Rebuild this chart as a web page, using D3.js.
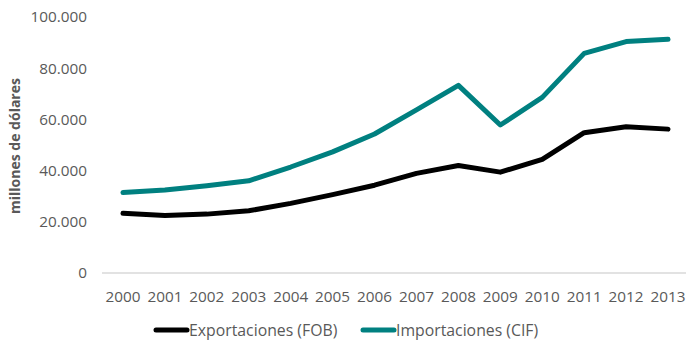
<!DOCTYPE html>
<html>
<head>
<meta charset="utf-8">
<script src="https://cdn.jsdelivr.net/npm/d3@7"></script>
<style>
  html, body { margin: 0; padding: 0; background: #fff; }
  svg { display: block; font-family: "Open Sans", "Noto Sans", sans-serif; }
</style>
</head>
<body>
<svg id="chart" width="686" height="343"></svg>
<script>
// Balanza comercial: exportaciones e importaciones, millones de dólares
const years = ["2000","2001","2002","2003","2004","2005","2006","2007","2008","2009","2010","2011","2012","2013"];
const exportaciones = [23300, 22500, 23000, 24300, 27200, 30600, 34300, 38900, 42000, 39400, 44400, 54800, 57100, 56200];
const importaciones = [31400, 32400, 34100, 36000, 41400, 47300, 54300, 63700, 73300, 57800, 68600, 85800, 90400, 91300];
const yTicks = [0, 20000, 40000, 60000, 80000, 100000];
const seriesNames = ["Exportaciones (FOB)", "Importaciones (CIF)"];
const seriesColors = ["#000000", "#008080"];
const yTitle = "millones de dólares";

const svg = d3.select("#chart");
const margin = { left: 102, top: 17 };

const x = d3.scaleBand().domain(years).range([margin.left, 689]).paddingInner(0).paddingOuter(0);
const y = d3.scaleLinear().domain([0, 100000]).range([273, margin.top]);

const fmt = v => v === 0 ? "0" : d3.format(",.0f")(v).replace(/,/g, ".");
const tickFont = "15.3px";

// y-axis labels (no line, no ticks)
const yAxis = d3.axisLeft(y).tickValues(yTicks).tickFormat(fmt).tickSize(0).tickPadding(0);
const gy = svg.append("g").attr("transform", `translate(87,0)`).call(yAxis);
gy.select(".domain").remove();
gy.selectAll("text").attr("fill", "#595959").style("font-size", tickFont).style("font-family", "'Open Sans', sans-serif");

// x-axis baseline and labels
const xAxis = d3.axisBottom(x).tickSize(0).tickPadding(17);
const gx = svg.append("g").attr("transform", `translate(0,${y(0)})`).call(xAxis);
gx.select(".domain").attr("stroke", "#d9d9d9").attr("stroke-width", 1.3).attr("d", `M${margin.left},0H686`);
gx.selectAll("text").attr("fill", "#595959").attr("dy", "0.35em").attr("y", 24)
  .style("font-size", tickFont).style("font-family", "'Open Sans', sans-serif");

// y-axis title
svg.append("text")
  .attr("transform", `translate(20,146) rotate(-90)`)
  .attr("text-anchor", "middle")
  .attr("fill", "#595959")
  .style("font-size", "14px")
  .style("font-weight", "bold")
  .text(yTitle);

// lines
const line = d3.line()
  .x((d, i) => x(years[i]) + x.bandwidth() / 2)
  .y(d => y(d));

[exportaciones, importaciones].forEach((vals, k) => {
  svg.append("path")
    .datum(vals)
    .attr("d", line)
    .attr("fill", "none")
    .attr("stroke", seriesColors[k])
    .attr("stroke-width", 5)
    .attr("stroke-linejoin", "round")
    .attr("stroke-linecap", "round");
});

// legend
const legendX = [156, 363];
seriesNames.forEach((name, k) => {
  const g = svg.append("g").attr("transform", `translate(${legendX[k]},330)`);
  g.append("line").attr("x1", 0).attr("x2", 31).attr("y1", 0).attr("y2", 0)
    .attr("stroke", seriesColors[k]).attr("stroke-width", 5).attr("stroke-linecap", "round");
  g.append("text").attr("x", 33).attr("y", 0).attr("dy", "0.35em")
    .attr("fill", "#595959").style("font-size", "15.8px").text(name);
});
</script>
</body>
</html>
